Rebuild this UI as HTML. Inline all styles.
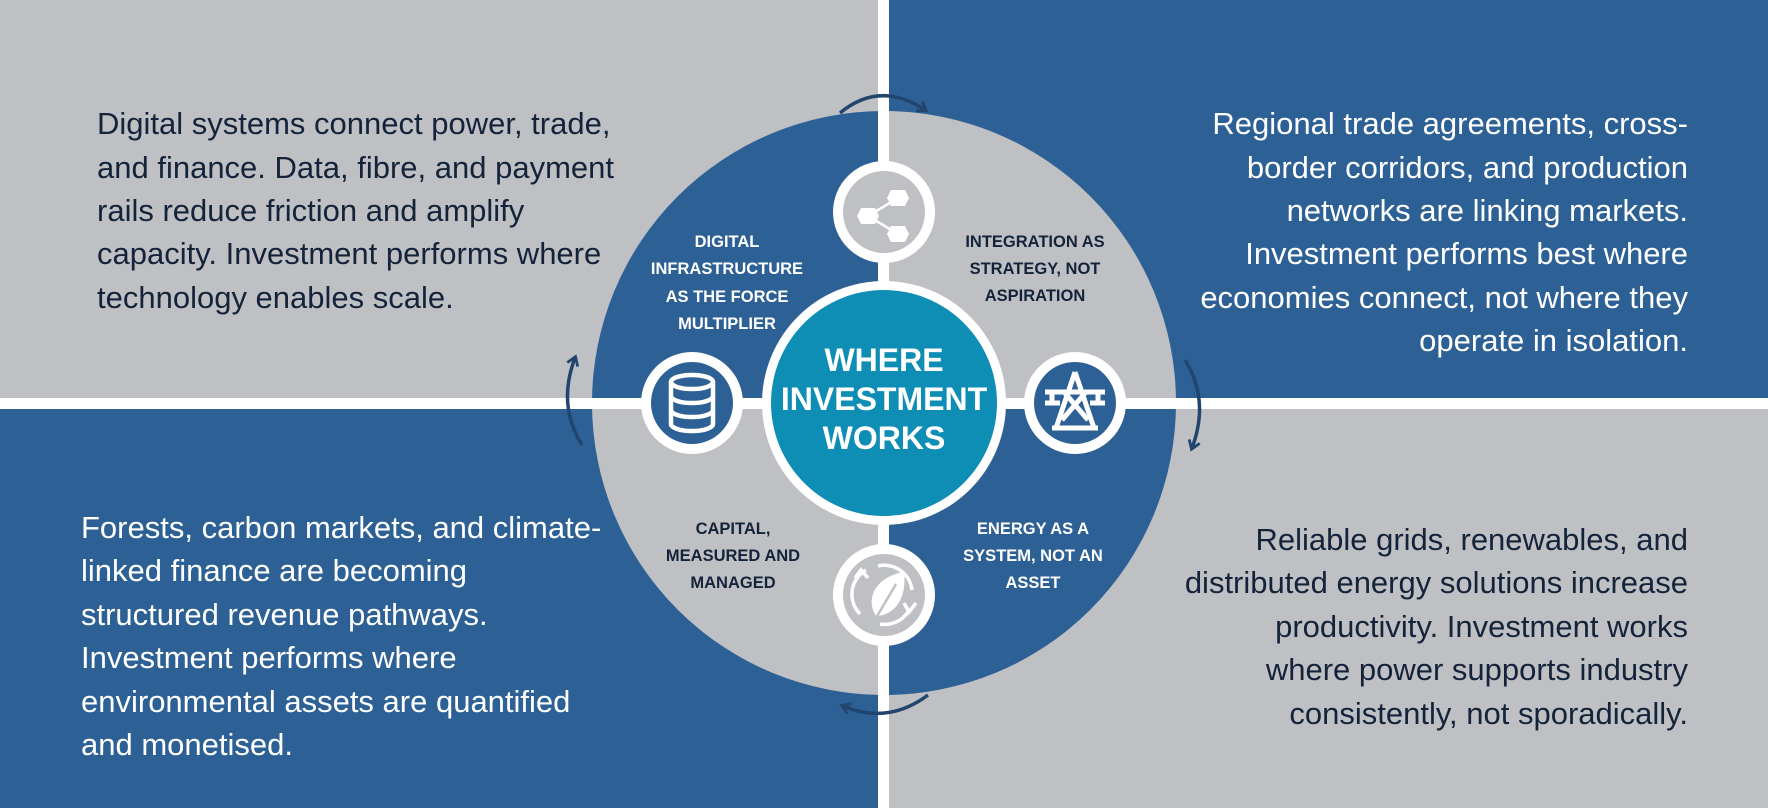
<!DOCTYPE html>
<html><head><meta charset="utf-8"><style>
html,body{margin:0;padding:0;background:#fff}
svg{display:block}
text{font-family:"Liberation Sans",sans-serif}
</style></head><body>
<svg width="1768" height="808" viewBox="0 0 1768 808" xmlns="http://www.w3.org/2000/svg">
<defs>
<clipPath id="big"><circle cx="884" cy="403" r="292"/></clipPath>
<marker id="ah" viewBox="0 0 10 10" refX="6" refY="5" markerWidth="4" markerHeight="4" orient="auto"><path d="M1,1 L7,5 L1,9" fill="none" stroke="#22456e" stroke-width="2"/></marker>
</defs>
<rect x="0" y="0" width="884" height="403" fill="#bfc0c4"/>
<rect x="884" y="0" width="884" height="403" fill="#2d6094"/>
<rect x="0" y="403" width="884" height="405" fill="#2d6094"/>
<rect x="884" y="403" width="884" height="405" fill="#bfc0c4"/>
<g clip-path="url(#big)">
<rect x="580" y="100" width="304" height="303" fill="#2d6094"/>
<rect x="884" y="100" width="304" height="303" fill="#bfc0c4"/>
<rect x="580" y="403" width="304" height="300" fill="#bfc0c4"/>
<rect x="884" y="403" width="304" height="300" fill="#2d6094"/>
</g>
<rect x="878" y="0" width="11" height="808" fill="#fff"/>
<rect x="0" y="398" width="1768" height="11" fill="#fff"/>
<g fill="none" stroke="#22456e" stroke-width="3.5" marker-end="url(#ah)">
<path d="M840,113 Q880,80 925,110"/>
<path d="M1185,360 Q1210,400 1192,448"/>
<path d="M928,695 Q888,725 843,706"/>
<path d="M582,445 Q557,405 575,358"/>
</g>
<circle cx="884" cy="403" r="122" fill="#fff"/>
<circle cx="884" cy="403" r="113" fill="#0e8db5"/>
<g fill="#fff" font-weight="bold" font-size="32" text-anchor="middle">
<text x="884" y="371">WHERE</text>
<text x="884" y="410">INVESTMENT</text>
<text x="884" y="449">WORKS</text>
</g>
<circle cx="884" cy="212" r="51" fill="#fff"/><circle cx="884" cy="212" r="41" fill="#bfc0c4"/>
<circle cx="692" cy="403" r="51" fill="#fff"/><circle cx="692" cy="403" r="41" fill="#2d6094"/>
<circle cx="1075" cy="403" r="51" fill="#fff"/><circle cx="1075" cy="403" r="41" fill="#2d6094"/>
<circle cx="884" cy="595" r="51" fill="#fff"/><circle cx="884" cy="595" r="41" fill="#bfc0c4"/>
<g fill="#fff" stroke="#fff">
<line x1="868" y1="216" x2="898" y2="198" stroke-width="2.5"/>
<line x1="868" y1="216" x2="898" y2="234" stroke-width="2.5"/>
<polygon points="861,208 875,208 879,216 875,224 861,224 857,216" stroke="none"/>
<polygon points="891,190 905,190 909,198 905,206 891,206 887,198" stroke="none"/>
<polygon points="891,226 905,226 909,234 905,242 891,242 887,234" stroke="none"/>
</g>
<g fill="none" stroke="#fff" stroke-width="4.5">
<ellipse cx="692" cy="382" rx="21" ry="7"/>
<path d="M671,382 V424 A21,7 0 0 0 713,424 V382"/>
<path d="M671,396 A21,7 0 0 0 713,396"/>
<path d="M671,410 A21,7 0 0 0 713,410"/>
</g>
<g fill="none" stroke="#fff" stroke-width="5" stroke-linejoin="round">
<path d="M1075,372 L1056,428 M1075,372 L1094,428"/>
<path d="M1045,392 H1105 M1052,392 V403 M1098,392 V403 M1045,403 H1060 M1090,403 H1105"/>
<path d="M1064,392 L1088,420 M1086,392 L1062,420"/>
<path d="M1052,428 H1098"/>
</g>
<g fill="none" stroke="#fff" stroke-width="3.5">
<path d="M860,614 A28,28 0 0 1 866,570"/>
<path d="M878,566 A28,28 0 0 1 912,590"/>
<path d="M908,612 A28,28 0 0 1 880,624"/>
<path d="M855,578 L861,570 L868,578"/>
<path d="M904,603 L909,612 L916,603"/>
</g>
<path d="M876,616 C864,597 878,576 904,572 C907,597 896,615 876,616 Z" fill="#fff"/>
<path d="M876,618 L896,584" stroke="#bfc0c4" stroke-width="2.5"/>
<g font-weight="bold" font-size="16.5" text-anchor="middle">
<g fill="#fff">
<text x="727" y="247">DIGITAL</text>
<text x="727" y="274">INFRASTRUCTURE</text>
<text x="727" y="302">AS THE FORCE</text>
<text x="727" y="329">MULTIPLIER</text>
<text x="1033" y="534">ENERGY AS A</text>
<text x="1033" y="561">SYSTEM, NOT AN</text>
<text x="1033" y="588">ASSET</text>
</g>
<g fill="#14233a">
<text x="1035" y="247">INTEGRATION AS</text>
<text x="1035" y="274">STRATEGY, NOT</text>
<text x="1035" y="301">ASPIRATION</text>
<text x="733" y="534">CAPITAL,</text>
<text x="733" y="561">MEASURED AND</text>
<text x="733" y="588">MANAGED</text>
</g>
</g>
<g font-size="31">
<g fill="#14233a">
<text x="97" y="134">Digital systems connect power, trade,</text>
<text x="97" y="178">and finance. Data, fibre, and payment</text>
<text x="97" y="221">rails reduce friction and amplify</text>
<text x="97" y="264">capacity. Investment performs where</text>
<text x="97" y="308">technology enables scale.</text>
</g>
<g fill="#fff" text-anchor="end">
<text x="1688" y="134">Regional trade agreements, cross-</text>
<text x="1688" y="178">border corridors, and production</text>
<text x="1688" y="221">networks are linking markets.</text>
<text x="1688" y="264">Investment performs best where</text>
<text x="1688" y="308">economies connect, not where they</text>
<text x="1688" y="351">operate in isolation.</text>
</g>
<g fill="#fff">
<text x="81" y="538">Forests, carbon markets, and climate-</text>
<text x="81" y="581">linked finance are becoming</text>
<text x="81" y="625">structured revenue pathways.</text>
<text x="81" y="668">Investment performs where</text>
<text x="81" y="712">environmental assets are quantified</text>
<text x="81" y="755">and monetised.</text>
</g>
<g fill="#14233a" text-anchor="end">
<text x="1688" y="550">Reliable grids, renewables, and</text>
<text x="1688" y="593">distributed energy solutions increase</text>
<text x="1688" y="637">productivity. Investment works</text>
<text x="1688" y="680">where power supports industry</text>
<text x="1688" y="724">consistently, not sporadically.</text>
</g>
</g>
</svg>
</body></html>
